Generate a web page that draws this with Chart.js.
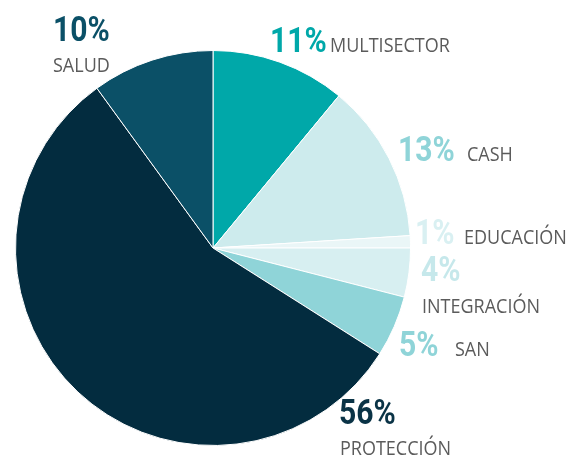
<!DOCTYPE html>
<html>
<head>
<meta charset="utf-8">
<script src="https://cdn.jsdelivr.net/npm/chart.js@4/dist/chart.umd.min.js"></script>
<style>
  html, body { margin: 0; padding: 0; background: #fff; }
  #wrap { width: 580px; height: 462px; position: relative; }
</style>
</head>
<body>
<div id="wrap"><canvas id="pie"></canvas></div>
<script>
// data, clockwise from 12 o'clock
var categories = ["MULTISECTOR", "CASH", "EDUCACIÓN", "INTEGRACIÓN", "SAN", "PROTECCIÓN", "SALUD"];
var shares = [11, 13, 1, 4, 5, 56, 10];

var sliceColors = ["#00a8a9", "#cdebed", "#eaf6f7", "#d7eff1", "#8fd4d8", "#032c3f", "#0b5067"];
var pctColors = ["#00a8a9", "#8fd4d8", "#d9f0f2", "#c6e8eb", "#8fd4d8", "#0a3346", "#0b5067"];

// where each label sits: [pct x, pct baseline, name x, name baseline]
var labelPos = [
    [270, 52, 330, 52],
    [398, 161, 467, 161],
    [415, 244, 464, 244],
    [421, 281, 422, 313],
    [399, 356, 455, 356],
    [339, 424, 340, 455],
    [53, 41, 53, 72]
];

function squeezeText(ctx, txt, x, y, sx) {
    ctx.save();
    ctx.translate(x, y);
    ctx.scale(sx, 1);
    ctx.fillText(txt, 0, 0);
    ctx.restore();
}

var outsideLabels = {
    id: "outsideLabels",
    afterDraw: function (chart) {
        var ctx = chart.ctx;
        ctx.save();
        ctx.textBaseline = "alphabetic";
        ctx.textAlign = "left";
        for (var i = 0; i < categories.length; i++) {
            var p = labelPos[i];
            ctx.font = "bold 35px Roboto, sans-serif";
            ctx.fillStyle = pctColors[i];
            squeezeText(ctx, shares[i] + "%", p[0], p[1], 0.86);
            ctx.font = "20px 'Open Sans', sans-serif";
            ctx.fillStyle = "#5b5b5b";
            squeezeText(ctx, categories[i], p[2], p[3], 0.9);
        }
        ctx.restore();
    }
};

new Chart(document.getElementById("pie"), {
    type: "pie",
    data: {
        labels: categories,
        datasets: [{
            data: shares,
            backgroundColor: sliceColors,
            borderColor: "#ffffff",
            borderWidth: 1
        }]
    },
    options: {
        responsive: true,
        maintainAspectRatio: false,
        animation: false,
        layout: { padding: { left: 15, right: 169, top: 50, bottom: 16 } },
        plugins: {
            legend: { display: false },
            tooltip: { enabled: false }
        }
    },
    plugins: [outsideLabels]
});
</script>
</body>
</html>
